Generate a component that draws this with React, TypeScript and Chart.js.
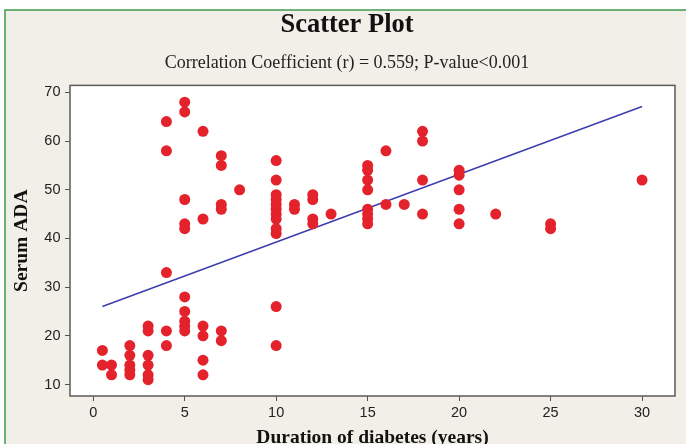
import React, { useEffect, useRef } from 'react';
import { Chart, registerables } from 'chart.js';

Chart.register(...registerables);

// Duration of diabetes (years) and Serum ADA, one entry per patient
const durationYears = [
  0.5, 0.5,
  1, 1,
  2, 2, 2, 2, 2,
  3, 3, 3, 3, 3, 3,
  4, 4, 4, 4, 4,
  5, 5, 5, 5, 5, 5, 5, 5, 5, 5,
  6, 6, 6, 6, 6, 6,
  7, 7, 7, 7, 7, 7,
  8,
  10, 10, 10, 10, 10, 10, 10, 10, 10, 10, 10, 10,
  11, 11,
  12, 12, 12, 12,
  13,
  15, 15, 15, 15, 15, 15, 15, 15,
  16, 16,
  17,
  18, 18, 18, 18,
  20, 20, 20, 20, 20,
  22,
  25, 25,
  30,
];
const serumADA = [
  17, 14,
  14, 12,
  18, 16, 14, 13, 12,
  22, 21, 16, 14, 12, 11,
  64, 58, 33, 21, 18,
  68, 66, 48, 43, 42, 28, 25, 23, 22, 21,
  62, 44, 22, 20, 15, 12,
  57, 55, 47, 46, 21, 19,
  50,
  56, 52, 49, 48, 47, 46, 45, 44, 42, 41, 26, 18,
  47, 46,
  49, 48, 44, 43,
  45,
  55, 54, 52, 50, 46, 45, 44, 43,
  58, 47,
  47,
  62, 60, 52, 45,
  54, 53, 50, 46, 43,
  45,
  43, 42,
  52,
];

// Fitted regression line end points
const fitX = [0.5, 30];
const fitY = [26.0, 67.1];

const xTicks = [0, 5, 10, 15, 20, 25, 30];
const yTicks = [10, 20, 30, 40, 50, 60, 70];

const titleText = 'Scatter Plot';
const subtitleText = 'Correlation Coefficient (r) = 0.559; P-value<0.001';
const xTitle = 'Duration of diabetes (years)';
const yTitle = 'Serum ADA';

const W = 686;
const H = 444;

const backgroundPlugin = {
  id: 'frameBackground',
  beforeDraw(chart: any) {
    const { ctx, chartArea } = chart;
    ctx.save();
    ctx.fillStyle = '#ffffff';
    ctx.fillRect(0, 0, W, H);
    ctx.fillStyle = '#F1EFE7';
    ctx.fillRect(5, 10, W - 5, H - 10);
    ctx.strokeStyle = '#3F9A50';
    ctx.lineWidth = 1.5;
    ctx.beginPath();
    ctx.moveTo(5, H);
    ctx.lineTo(5, 10);
    ctx.lineTo(W, 10);
    ctx.stroke();
    ctx.fillStyle = '#ffffff';
    ctx.fillRect(chartArea.left, chartArea.top, chartArea.right - chartArea.left, chartArea.bottom - chartArea.top);
    ctx.restore();
  },
  afterDatasetsDraw(chart: any) {
    const { ctx, chartArea } = chart;
    ctx.save();
    ctx.strokeStyle = '#5a5a5a';
    ctx.lineWidth = 1.5;
    ctx.strokeRect(chartArea.left, chartArea.top, chartArea.right - chartArea.left, chartArea.bottom - chartArea.top);
    ctx.restore();
  },
};

export default function App() {
  const ref = useRef<HTMLCanvasElement>(null);

  useEffect(() => {
    if (!ref.current) return;
    const points = durationYears.map((x, i) => ({ x, y: serumADA[i] }));
    const line = fitX.map((x, i) => ({ x, y: fitY[i] }));
    const tickFont = { family: 'Liberation Sans', size: 14.5 };
    const chart = new Chart(ref.current, {
      type: 'scatter',
      data: {
        datasets: [
          {
            label: 'Serum ADA',
            data: points,
            backgroundColor: '#E3222B',
            borderColor: '#E3222B',
            borderWidth: 0,
            pointRadius: 5.5,
          },
          {
            label: 'Fit',
            data: line,
            showLine: true,
            borderColor: '#3E3EAE',
            borderWidth: 1.6,
            pointRadius: 0,
          },
        ],
      },
      options: {
        responsive: false,
        animation: false,
        layout: { padding: { left: 8, right: 0, top: 0, bottom: 0 } },
        plugins: {
          legend: { display: false },
          tooltip: { enabled: false },
          title: {
            display: true,
            text: titleText,
            color: '#111',
            font: { family: 'Liberation Serif', size: 26.5, weight: 'bold', lineHeight: 1.2 },
            padding: { top: 9.6, bottom: 10.6 },
          },
          subtitle: {
            display: true,
            text: subtitleText,
            color: '#222',
            font: { family: 'Liberation Serif', size: 18, lineHeight: 1.2 },
            padding: { top: 0, bottom: 11.8 },
          },
        },
        scales: {
          x: {
            type: 'linear',
            min: -1.27,
            max: 31.8,
            afterBuildTicks: (s: any) => {
              s.ticks = xTicks.map((v) => ({ value: v }));
            },
            afterFit: (s: any) => {
              s.height = 48;
            },
            grid: { drawOnChartArea: false, drawTicks: true, tickLength: 5, color: '#555', tickColor: '#555' },
            border: { display: false },
            ticks: { font: tickFont, color: '#222', padding: 3, maxRotation: 0, autoSkip: false },
            title: {
              display: true,
              text: xTitle,
              color: '#111',
              font: { family: 'Liberation Serif', size: 19.5, weight: 'bold', lineHeight: 1.2 },
              padding: { top: 0, bottom: -5.4 },
            },
          },
          y: {
            type: 'linear',
            min: 7.64,
            max: 71.44,
            afterBuildTicks: (s: any) => {
              s.ticks = yTicks.map((v) => ({ value: v }));
            },
            afterFit: (s: any) => {
              s.width = 62;
            },
            grid: { drawOnChartArea: false, drawTicks: true, tickLength: 5, color: '#555', tickColor: '#555' },
            border: { display: false },
            ticks: { font: tickFont, color: '#222', padding: 4.5, autoSkip: false },
            title: {
              display: true,
              text: yTitle,
              color: '#111',
              font: { family: 'Liberation Serif', size: 19.5, weight: 'bold', lineHeight: 1.2 },
              padding: { top: 1.8, bottom: 0 },
            },
          },
          yRight: {
            type: 'linear',
            position: 'right',
            display: true,
            min: 7.64,
            max: 71.44,
            afterFit: (s: any) => {
              s.width = 11;
            },
            grid: { display: false },
            border: { display: false },
            ticks: { display: false },
          },
        },
      },
      plugins: [backgroundPlugin],
    });
    return () => chart.destroy();
  }, []);

  return (
    <div style={{ position: 'fixed', left: 0, top: 0, width: W, height: H, overflow: 'hidden', background: '#fff' }}>
      <canvas ref={ref} width={W} height={H} style={{ display: 'block', width: W, height: H }} />
    </div>
  );
}
